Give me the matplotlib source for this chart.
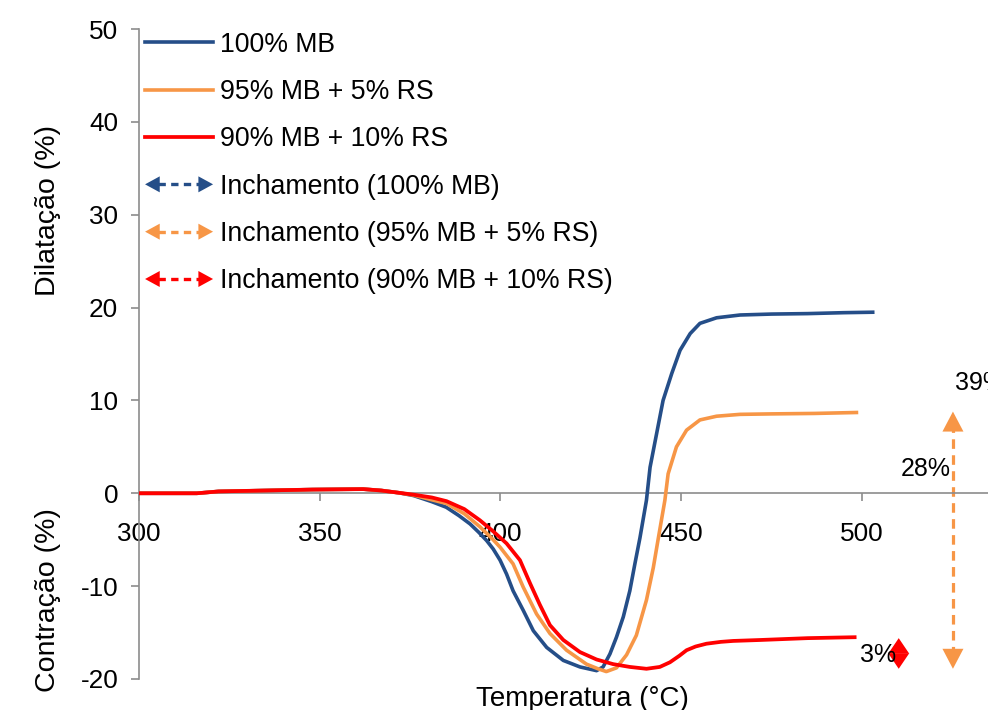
import matplotlib
matplotlib.use("Agg")
import matplotlib.pyplot as plt
from matplotlib.lines import Line2D
from matplotlib.patches import FancyArrowPatch
from matplotlib.legend_handler import HandlerBase

plt.rcParams.update({
    "font.family": ["Liberation Sans", "DejaVu Sans"],
    "font.size": 19,
    "axes.unicode_minus": False,
})

BLUE = "#254E88"
ORANGE = "#F79646"
RED = "#FF0000"
AXIS = "#8C8C8C"

# 100% MB
t_mb = [300, 316, 322, 335, 348, 362, 367, 372, 376, 381, 385, 388.5, 391.6,
        394, 396.2, 398, 399.9, 401.7, 403.5, 406.3, 409.1, 412.8, 417.4, 422,
        426.6, 428.4, 430.3, 432.1, 434, 435.8, 437.2, 438.6, 440.4, 441.4,
        443.2, 445, 447.4, 449.7, 452.5, 455.2, 459.8, 466.3, 475, 485, 495, 503]
y_mb = [0, 0, 0.2, 0.3, 0.4, 0.45, 0.3, 0.05, -0.25, -0.9, -1.5, -2.4, -3.3,
        -4.2, -5.1, -6.0, -7.2, -8.7, -10.5, -12.6, -14.8, -16.6, -18.0, -18.7,
        -19.1, -18.7, -17.3, -15.5, -13.3, -10.5, -7.6, -4.8, -0.75, 2.8,
        6.4, 10.0, 12.9, 15.4, 17.2, 18.3, 18.9, 19.2, 19.3, 19.35, 19.45, 19.5]

# 95% MB + 5% RS
t_rs5 = [300, 316, 322, 335, 348, 362, 367, 372, 376, 381, 385.1, 390, 394.3,
         397.5, 399.9, 403.5, 406.3, 410, 413.7, 418.3, 423.8, 427, 429.3,
         432.1, 434.9, 437.6, 440.4, 442.3, 443.7, 445.5, 446.4, 448.7, 451.5,
         455.2, 459.8, 466.3, 475, 487, 498.5]
y_rs5 = [0, 0, 0.2, 0.3, 0.4, 0.45, 0.3, 0.05, -0.2, -0.7, -1.1, -2.2, -3.6,
         -4.8, -5.8, -7.6, -10.1, -13.0, -15.1, -16.9, -18.4, -18.9, -19.2,
         -18.8, -17.4, -15.3, -11.5, -8.0, -4.8, -0.75, 2.1, 5.0, 6.8,
         7.9, 8.3, 8.5, 8.55, 8.6, 8.7]

# 90% MB + 10% RS
t_rs10 = [300, 316, 322, 335, 348, 362, 367, 372, 376, 381, 385.1, 390, 394.3,
          398, 401.7, 405.4, 408.2, 410.9, 413.7, 417.4, 422, 426.6, 431.2,
          435.8, 440.4, 444.1, 446.9, 449.5, 451.5, 454, 457, 461, 464.4,
          471.8, 485, 498]
y_rs10 = [0, 0, 0.2, 0.3, 0.4, 0.45, 0.3, 0.05, -0.15, -0.45, -0.85, -1.7, -2.9,
          -4.1, -5.4, -7.2, -9.7, -12.0, -14.2, -15.8, -17.1, -17.9, -18.4,
          -18.7, -18.9, -18.7, -18.2, -17.5, -16.9, -16.5, -16.2, -16.0, -15.9,
          -15.8, -15.6, -15.5]

# swelling annotations: (x, bottom, top)
swell_rs5 = (525.2, -18.9, 8.8)
swell_rs10 = (510.2, -18.9, -15.6)

labels = ["100% MB", "95% MB + 5% RS", "90% MB + 10% RS",
          "Inchamento (100% MB)", "Inchamento (95% MB + 5% RS)",
          "Inchamento (90% MB + 10% RS)"]


class HandlerDoubleArrow(HandlerBase):
    def create_artists(self, legend, orig_handle, xdescent, ydescent,
                       width, height, fontsize, trans):
        color = orig_handle.get_color()
        y = height / 2 - ydescent
        x0, x1 = -xdescent, width - xdescent
        line = Line2D([x0 + 9, x1 - 9], [y, y], color=color, lw=2.4,
                      ls=(0, (2.2, 1.6)))
        heads = FancyArrowPatch((x0, y), (x1, y),
                                arrowstyle="<|-|>,head_length=0.55,head_width=0.3",
                                mutation_scale=fontsize, color=color, lw=0,
                                shrinkA=0, shrinkB=0)
        line.set_transform(trans)
        heads.set_transform(trans)
        return [line, heads]


fig = plt.figure(figsize=(9.88, 7.10), dpi=100)
ax = fig.add_axes([139 / 988, 31 / 710, 849 / 988, 650 / 710])

l1, = ax.plot(t_mb, y_mb, color=BLUE, lw=2.6, zorder=3, solid_joinstyle="round")
l2, = ax.plot(t_rs5, y_rs5, color=ORANGE, lw=2.6, zorder=3, solid_joinstyle="round")
l3, = ax.plot(t_rs10, y_rs10, color=RED, lw=2.7, zorder=3, solid_joinstyle="round")

# 5% RS swelling: dashed shaft + solid heads
x, lo, hi = swell_rs5
ax.plot([x, x], [lo + 1.4, hi - 1.4], color=ORANGE, lw=2.3,
        ls=(0, (3.0, 2.0)), clip_on=False)
ax.annotate("", xy=(x, hi), xytext=(x, lo),
            arrowprops=dict(arrowstyle="<|-|>,head_length=0.8,head_width=0.42",
                            mutation_scale=18, color=ORANGE, lw=0,
                            shrinkA=0, shrinkB=0),
            annotation_clip=False)
x, lo, hi = swell_rs10
ax.annotate("", xy=(x, hi), xytext=(x, lo),
            arrowprops=dict(arrowstyle="<|-|>,head_length=0.62,head_width=0.42",
                            mutation_scale=18, color=RED, lw=0,
                            shrinkA=0, shrinkB=0),
            annotation_clip=False)

ax.text(517.7, 2.6, "28%", ha="center", va="center", fontsize=18)
ax.text(525.7, 11.9, "39%", ha="left", va="center", fontsize=18, clip_on=False)
ax.text(504.4, -17.4, "3%", ha="center", va="center", fontsize=18)

ax.set_xlim(300, 534.9)
ax.set_ylim(-20, 50)
ax.set_xticks([300, 350, 400, 450, 500])
ax.set_yticks(range(-20, 51, 10))

for s in ("top", "right"):
    ax.spines[s].set_visible(False)
ax.spines["bottom"].set_position(("data", 0))
ax.spines["bottom"].set_color(AXIS)
ax.spines["left"].set_color(AXIS)
ax.spines["bottom"].set_linewidth(1.2)
ax.spines["left"].set_linewidth(1.2)
ax.tick_params(axis="x", direction="out", length=6, width=1.2, color=AXIS,
               pad=15, labelsize=18.8)
ax.tick_params(axis="y", direction="out", length=6, width=1.2, color=AXIS,
               pad=9, labelsize=18.8)

handles = [l1, l2, l3,
           Line2D([], [], color=BLUE), Line2D([], [], color=ORANGE),
           Line2D([], [], color=RED)]
ax.legend(handles, labels, loc="upper left", bbox_to_anchor=(0.004, 1.0),
          frameon=False, fontsize=19.2, handlelength=2.55, handletextpad=0.27,
          labelspacing=0.8, borderaxespad=0, borderpad=0.1,
          handler_map={h: HandlerDoubleArrow() for h in handles[3:]})

fig.text(48 / 988, 1 - 210 / 710, "Dilatação (%)", rotation=90,
         ha="center", va="center", fontsize=20.5)
fig.text(48 / 988, 1 - 600 / 710, "Contração (%)", rotation=90,
         ha="center", va="center", fontsize=20.5)
fig.text(582 / 988, 1 - 706 / 710, "Temperatura (°C)", ha="center",
         va="baseline", fontsize=20)

fig.savefig("out.png", dpi=100)
